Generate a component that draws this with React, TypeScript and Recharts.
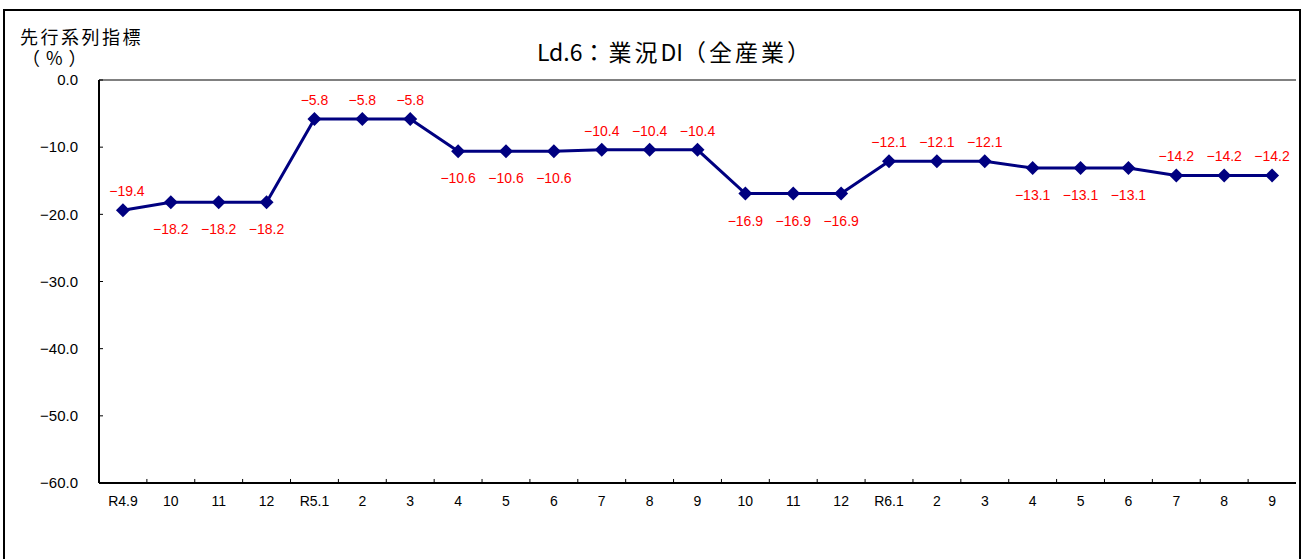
import React from "react"
import {
  LineChart, Line, XAxis, YAxis, ReferenceLine, LabelList,
} from "recharts"

const categories = [
  "R4.9", "10", "11", "12",
  "R5.1", "2", "3", "4", "5", "6", "7", "8", "9", "10", "11", "12",
  "R6.1", "2", "3", "4", "5", "6", "7", "8", "9",
]

const diValues = [
  -19.4, -18.2, -18.2, -18.2,
  -5.8, -5.8, -5.8, -10.6, -10.6, -10.6, -10.4, -10.4, -10.4, -16.9, -16.9, -16.9,
  -12.1, -12.1, -12.1, -13.1, -13.1, -13.1, -14.2, -14.2, -14.2,
]

// where each value label sits relative to its marker
const labelSide = [
  "up", "down", "down", "down",
  "up", "up", "up", "down", "down", "down", "up", "up", "up", "down", "down", "down",
  "up", "up", "up", "down", "down", "down", "up", "up", "up",
]

const yTicks = [0, -10, -20, -30, -40, -50, -60]

const data = categories.map((c, i) => ({ idx: i, label: c, value: diValues[i] }))

const NAVY = "#000080"
const NUM_FONT = "'Liberation Sans', Arial, sans-serif"
const JP_FONT = "'Noto Sans CJK JP', 'Noto Sans', sans-serif"

const fmt = (v: number) => (v < 0 ? "\u2212" + Math.abs(v).toFixed(1) : v.toFixed(1))

const Diamond = (props: any) => {
  const { cx, cy, index } = props
  if (cx == null || cy == null) return <g key={`d${index}`} />
  const r = 7
  return (
    <polygon
      key={`d${index}`}
      points={`${cx},${cy - r} ${cx + r},${cy} ${cx},${cy + r} ${cx - r},${cy}`}
      fill={NAVY}
    />
  )
}

const ValueLabel = (props: any) => {
  const { x, y, value, index } = props
  const up = labelSide[index] === "up"
  return (
    <text
      x={x + (index === 0 ? 4 : 0)}
      y={up ? y - 19 : y + 27}
      textAnchor="middle"
      dominantBaseline="central"
      fill="#ff0000"
      fontSize={14}
      fontFamily={NUM_FONT}
    >
      {fmt(value)}
    </text>
  )
}

export default function App() {
  return (
    <div style={{ position: "absolute", left: 0, top: 0, width: 1305, height: 559, overflow: "hidden", background: "#fff" }}>
      <div
        style={{
          position: "absolute", left: 3, top: 9, width: 1294, height: 600,
          border: "2px solid #000",
        }}
      />
      <div style={{ position: "absolute", left: 0, top: 0 }}>
        <LineChart
          width={1305}
          height={559}
          data={data}
          margin={{ top: 80, right: 9, bottom: 46, left: 39 }}
        >
          <XAxis
            dataKey="idx"
            type="category"
            scale="band"
            height={30}
            tickLine={false}
            tickSize={0}
            tickMargin={13}
            axisLine={{ stroke: "#000", strokeWidth: 2 }}
            tickFormatter={(_v: any, i: number) => categories[i]}
            tick={{ fill: "#000", fontSize: 14, fontFamily: NUM_FONT }}
            interval={0}
          />
          <YAxis
            type="number"
            domain={[-60, 0]}
            ticks={yTicks}
            width={60}
            tickSize={-4}
            tickMargin={25}
            tickLine={{ stroke: "#000", strokeWidth: 1 }}
            axisLine={{ stroke: "#000", strokeWidth: 2 }}
            tickFormatter={fmt}
            tick={{ fill: "#000", fontSize: 15, fontFamily: NUM_FONT }}
            interval={0}
          />
          <ReferenceLine y={0} stroke="#808080" strokeWidth={2} />
          <ReferenceLine x={categories.length - 1} position="end" stroke="#808080" strokeWidth={2} />
          {categories.slice(1).map((_, i) => (
            <ReferenceLine
              key={`t${i}`}
              position="start"
              segment={[{ x: i + 1, y: -60 }, { x: i + 1, y: -59.4 }]}
              stroke="#000"
              strokeWidth={1}
            />
          ))}
          <Line
            dataKey="value"
            stroke={NAVY}
            strokeWidth={3}
            dot={Diamond}
            activeDot={false}
            isAnimationActive={false}
          >
            <LabelList dataKey="value" content={ValueLabel} />
          </Line>
        </LineChart>
      </div>
      <svg
        width={1305}
        height={559}
        style={{ position: "absolute", left: 0, top: 0, pointerEvents: "none" }}
      >
        <text x={675} y={61} textAnchor="middle" fontSize={23} fontFamily={JP_FONT} fill="#000">
          <tspan>Ld.6</tspan>
          <tspan letterSpacing={3}>：業況</tspan>
          <tspan>DI</tspan>
          <tspan letterSpacing={3}>（全産業）</tspan>
        </text>
        <text x={20} y={44} fontSize={18} fontFamily={JP_FONT} fill="#000" letterSpacing={2.5}>
          先行系列指標
        </text>
        <text x={22} y={65} fontSize={18} fontFamily={JP_FONT} fill="#000" letterSpacing={6}>
          （%）
        </text>
      </svg>
    </div>
  )
}
